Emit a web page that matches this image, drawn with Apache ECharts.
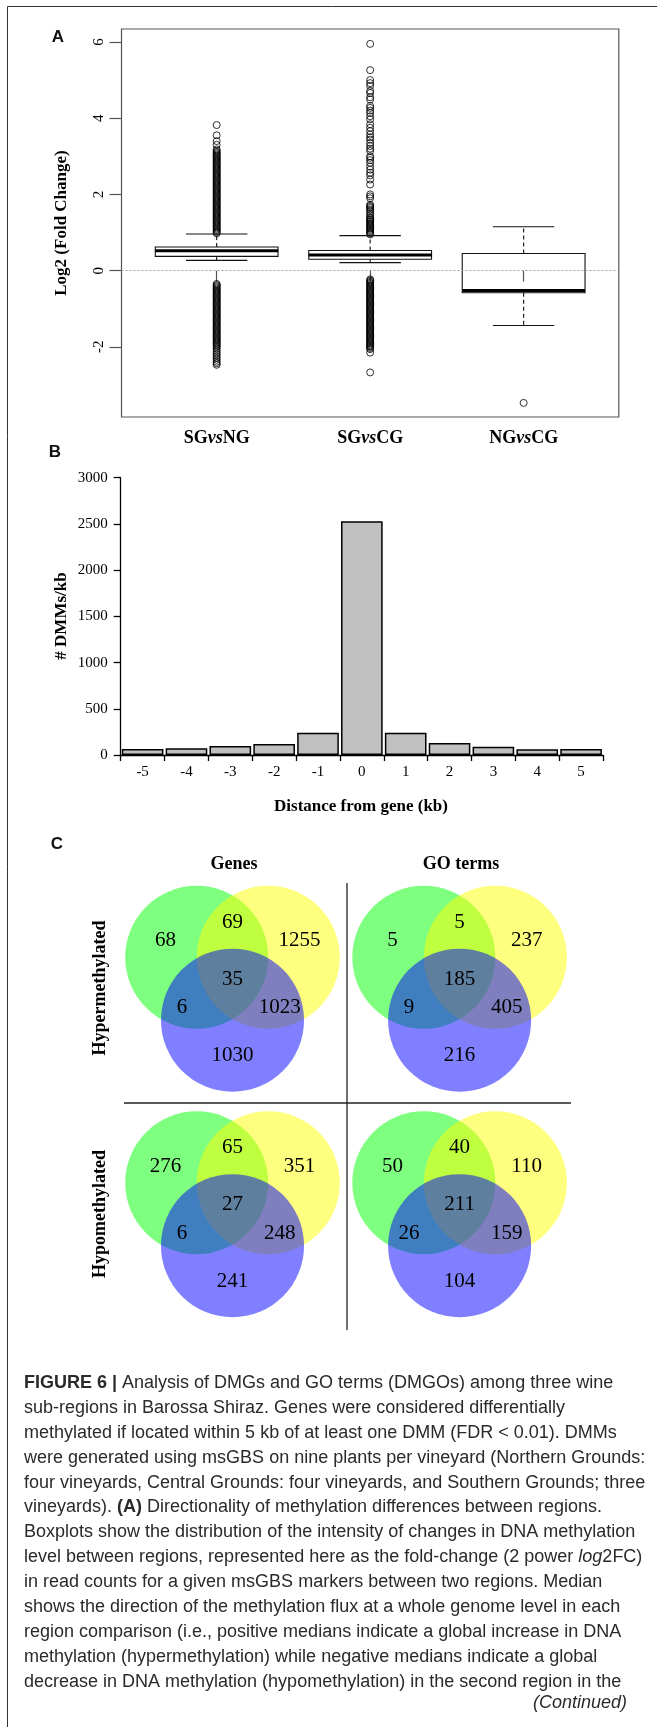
<!DOCTYPE html>
<html>
<head>
<meta charset="utf-8">
<script src="https://cdn.jsdelivr.net/npm/echarts@6/dist/echarts.min.js"></script>
<style>
html,body{margin:0;padding:0;background:#fff;}
#c{width:657px;height:1727px;}
</style>
</head>
<body>
<div id="c"></div>
<script>
// ---------- Panel A: boxplots of log2 fold change ----------
const boxCategories = ['SGvsNG', 'SGvsCG', 'NGvsCG'];
const boxPositions = [1, 2, 3];
const whiskerLow = [0.27, 0.21, -1.44];
const quartile1 = [0.375, 0.30, -0.58];
const medians = [0.52, 0.41, -0.52];
const quartile3 = [0.62, 0.53, 0.45];
const whiskerHigh = [0.96, 0.92, 1.15];
const yTicksA = [-2, 0, 2, 4, 6];
const outliersSGvsNG = [
  0.98, 1.01, 1.04, 1.07, 1.10, 1.13, 1.16, 1.19, 1.22, 1.25, 1.28, 1.31, 1.34, 1.37, 1.40,
  1.43, 1.46, 1.49, 1.52, 1.55, 1.58, 1.61, 1.64, 1.67, 1.70, 1.73, 1.76, 1.79, 1.82, 1.85,
  1.88, 1.91, 1.94, 1.97, 2.00, 2.03, 2.06, 2.09, 2.12, 2.15, 2.18, 2.21, 2.24, 2.27, 2.30,
  2.33, 2.36, 2.39, 2.42, 2.45, 2.48, 2.51, 2.54, 2.57, 2.60, 2.63, 2.66, 2.69, 2.72, 2.75,
  2.78, 2.81, 2.84, 2.87, 2.90, 2.93, 2.96, 2.99, 3.02, 3.05, 3.08, 3.11, 3.14, 3.18, 3.30,
  3.40, 3.55, 3.82,
  -0.35, -0.38, -0.41, -0.44, -0.47, -0.50, -0.53, -0.56, -0.59, -0.62, -0.65, -0.68, -0.71,
  -0.74, -0.77, -0.80, -0.83, -0.86, -0.89, -0.92, -0.95, -0.98, -1.01, -1.04, -1.07, -1.10,
  -1.13, -1.16, -1.19, -1.22, -1.25, -1.28, -1.31, -1.34, -1.37, -1.40, -1.43, -1.46, -1.49,
  -1.52, -1.55, -1.58, -1.61, -1.64, -1.67, -1.70, -1.73, -1.76, -1.79, -1.82, -1.85, -1.88,
  -1.91, -1.94, -1.97, -2.00, -2.04, -2.09, -2.14, -2.19, -2.24, -2.29, -2.34, -2.39, -2.43,
  -2.47
];
const outliersSGvsCG = [
  0.95, 0.98, 1.01, 1.04, 1.07, 1.10, 1.13, 1.16, 1.19, 1.22, 1.25, 1.28, 1.31, 1.34, 1.37,
  1.40, 1.45, 1.50, 1.56, 1.60, 1.64, 1.67, 1.70, 1.73, 1.90, 1.95, 2.00, 2.26, 2.39, 2.50,
  2.57, 2.65, 2.73, 2.83, 2.90, 2.96, 3.00, 3.14, 3.20, 3.27, 3.35, 3.44, 3.50, 3.57, 3.66,
  3.75, 3.84, 3.97, 4.05, 4.14, 4.20, 4.27, 4.32, 4.49, 4.55, 4.66, 4.72, 4.85, 4.92, 5.00,
  5.26, 5.95,
  -0.23, -0.26, -0.29, -0.32, -0.35, -0.38, -0.41, -0.44, -0.47, -0.50, -0.53, -0.56, -0.59,
  -0.62, -0.65, -0.68, -0.71, -0.74, -0.77, -0.80, -0.83, -0.86, -0.89, -0.92, -0.95, -0.98,
  -1.01, -1.04, -1.07, -1.10, -1.13, -1.16, -1.19, -1.22, -1.25, -1.28, -1.31, -1.34, -1.37,
  -1.40, -1.43, -1.46, -1.49, -1.52, -1.55, -1.58, -1.61, -1.64, -1.67, -1.70, -1.73, -1.76,
  -1.79, -1.82, -1.85, -1.88, -1.91, -1.94, -1.97, -2.00, -2.03, -2.06, -2.15, -2.67
];
const outliersNGvsCG = [-3.47];

// ---------- Panel B: DMMs per kb by distance from gene ----------
const distanceLabels = ['-5', '-4', '-3', '-2', '-1', '0', '1', '2', '3', '4', '5'];
const dmmPerKb = [65, 72, 97, 119, 242, 2530, 242, 130, 90, 61, 65];

// ---------- Panel C: Venn diagrams ----------
// region order: greenOnly, green&yellow, yellowOnly, all three, green&blue, yellow&blue, blueOnly
const vennColumns = ['Genes', 'GO terms'];
const vennRows = ['Hypermethylated', 'Hypomethylated'];
const vennGenesHyper = [68, 69, 1255, 35, 6, 1023, 1030];
const vennGOHyper = [5, 5, 237, 185, 9, 405, 216];
const vennGenesHypo = [276, 65, 351, 27, 6, 248, 241];
const vennGOHypo = [50, 40, 110, 211, 26, 159, 104];

// ---------- Caption ----------
const captionLines = [
  '{b|FIGURE 6 |} Analysis of DMGs and GO terms (DMGOs) among three wine',
  'sub-regions in Barossa Shiraz. Genes were considered differentially',
  'methylated if located within 5 kb of at least one DMM (FDR < 0.01). DMMs',
  'were generated using msGBS on nine plants per vineyard (Northern Grounds:',
  'four vineyards, Central Grounds: four vineyards, and Southern Grounds; three',
  'vineyards). {b|(A)} Directionality of methylation differences between regions.',
  'Boxplots show the distribution of the intensity of changes in DNA methylation',
  'level between regions, represented here as the fold-change (2 power {i|log}2FC)',
  'in read counts for a given msGBS markers between two regions. Median',
  'shows the direction of the methylation flux at a whole genome level in each',
  'region comparison (i.e., positive medians indicate a global increase in DNA',
  'methylation (hypermethylation) while negative medians indicate a global',
  'decrease in DNA methylation (hypomethylation) in the second region in the'
];
const captionContinued = '(Continued)';

// ================= rendering =================
const serif = '"Liberation Serif","Times New Roman",serif';
const sans = '"Liberation Sans",Arial,sans-serif';
const capFont = '"Liberation Sans",Arial,sans-serif';
const capSize = 18;
const capColor = '#2a2a2a';

const chart = echarts.init(document.getElementById('c'), null, {renderer: 'canvas', width: 657, height: 1727});

const outlierData = [];
[outliersSGvsNG, outliersSGvsCG, outliersNGvsCG].forEach((arr, i) => {
  arr.forEach(v => outlierData.push([boxPositions[i], v]));
});

const vennSets = [vennGenesHyper, vennGOHyper, vennGenesHypo, vennGOHypo];
const vennCells = [[0.5, 0.5], [1.5, 0.5], [0.5, 1.5], [1.5, 1.5]];
const vennRadius = 0.315; // in column units
const vennCircleOffsets = [[-0.5, -0.29, 'rgba(0,255,0,0.5)'], [0.5, -0.29, 'rgba(255,255,0,0.5)'], [0, 0.59, 'rgba(0,0,255,0.5)']];
const vennLabelOffsets = [[-0.937, -0.522], [0, -0.783], [0.937, -0.522], [0, 0.014], [-0.706, 0.415], [0.66, 0.415], [0, 1.09]];

const graphics = [];
// figure frame (left and top border)
graphics.push({type: 'line', shape: {x1: 7.5, y1: 6.5, x2: 7.5, y2: 1727}, style: {stroke: '#333', lineWidth: 1}});
graphics.push({type: 'line', shape: {x1: 7.5, y1: 6.5, x2: 657, y2: 6.5}, style: {stroke: '#333', lineWidth: 1}});
// panel letters
[['A', 58, 37], ['B', 55, 452], ['C', 57, 844]].forEach(p => {
  graphics.push({type: 'text', x: p[1], y: p[2], style: {text: p[0], font: 'bold 17px ' + sans, fill: '#111', textAlign: 'center', textVerticalAlign: 'middle'}});
});
// axis titles
graphics.push({type: 'text', x: 62, y: 223, rotation: Math.PI / 2, style: {text: 'Log2 (Fold Change)', font: 'bold 17px ' + serif, fill: '#000', textAlign: 'center', textVerticalAlign: 'middle'}});
graphics.push({type: 'text', x: 62, y: 616, rotation: Math.PI / 2, style: {text: '# DMMs/kb', font: 'bold 17px ' + serif, fill: '#000', textAlign: 'center', textVerticalAlign: 'middle'}});
graphics.push({type: 'text', x: 361, y: 807, style: {text: 'Distance from gene (kb)', font: 'bold 17px ' + serif, fill: '#000', textAlign: 'center', textVerticalAlign: 'middle'}});
// panel C titles
[[vennColumns[0], 234, 864], [vennColumns[1], 461, 864]].forEach(p => {
  graphics.push({type: 'text', x: p[1], y: p[2], style: {text: p[0], font: 'bold 18px ' + serif, fill: '#000', textAlign: 'center', textVerticalAlign: 'middle'}});
});
[[vennRows[0], 100.5, 988], [vennRows[1], 100.5, 1214]].forEach(p => {
  graphics.push({type: 'text', x: p[1], y: p[2], rotation: Math.PI / 2, style: {text: p[0], font: 'bold 18px ' + serif, fill: '#000', textAlign: 'center', textVerticalAlign: 'middle'}});
});
// panel C dividers
graphics.push({type: 'line', shape: {x1: 347, y1: 883, x2: 347, y2: 1330}, style: {stroke: '#222', lineWidth: 1.3}});
graphics.push({type: 'line', shape: {x1: 124, y1: 1103, x2: 571, y2: 1103}, style: {stroke: '#222', lineWidth: 1.3}});
// caption
const capRich = {
  b: {fontWeight: 'bold', fontFamily: capFont, fontSize: capSize, fill: capColor},
  i: {fontStyle: 'italic', fontFamily: capFont, fontSize: capSize, fill: capColor}
};
captionLines.forEach((t, k) => {
  graphics.push({type: 'text', x: 24, y: 1383 + k * 24.9, style: {text: t, rich: capRich, fontFamily: capFont, fontSize: capSize, fill: capColor, textAlign: 'left', textVerticalAlign: 'middle'}});
});
graphics.push({type: 'text', x: 627, y: 1703, style: {text: captionContinued, font: 'italic ' + capSize + 'px ' + capFont, fill: capColor, textAlign: 'right', textVerticalAlign: 'middle'}});

const option = {
  backgroundColor: '#fff',
  animation: false,
  grid: [
    {left: 121.5, top: 29, width: 497.3, height: 388, show: true, borderColor: '#555', borderWidth: 1.2, backgroundColor: 'transparent'},
    {left: 120.7, top: 477.7, width: 482.3, height: 277.3},
    {left: 118.95, top: 865.25, width: 454.2, height: 451}
  ],
  xAxis: [
    {
      gridIndex: 0, type: 'value', min: 0.38, max: 3.62,
      axisLine: {show: false}, splitLine: {show: false},
      axisTick: {show: true, length: 11, customValues: boxPositions, lineStyle: {color: '#555', width: 1.2}},
      axisLabel: {
        customValues: boxPositions, margin: 12,
        formatter: v => {
          const name = boxCategories[boxPositions.indexOf(Math.round(v))] || '';
          const parts = name.split('vs');
          return '{b|' + parts[0] + '}{i|vs}{b|' + parts[1] + '}';
        },
        rich: {
          b: {fontFamily: serif, fontWeight: 'bold', fontSize: 18, color: '#000'},
          i: {fontFamily: serif, fontWeight: 'bold', fontStyle: 'italic', fontSize: 18, color: '#000'}
        }
      }
    },
    {
      gridIndex: 1, type: 'category', data: distanceLabels,
      axisLine: {show: true, lineStyle: {color: '#000', width: 1.3}},
      axisTick: {show: true, length: 6, lineStyle: {color: '#000', width: 1.3}},
      axisLabel: {fontFamily: serif, fontSize: 15, color: '#000', margin: 10}
    },
    {gridIndex: 2, type: 'value', min: 0, max: 2, show: false}
  ],
  yAxis: [
    {
      gridIndex: 0, type: 'value', min: -3.84, max: 6.34,
      axisLine: {show: false}, splitLine: {show: false},
      axisTick: {show: true, length: 12, customValues: yTicksA, lineStyle: {color: '#555', width: 1.2}},
      axisLabel: {customValues: yTicksA, rotate: 90, margin: 15, fontFamily: serif, fontSize: 15, color: '#000'}
    },
    {
      gridIndex: 1, type: 'value', min: 0, max: 3000, interval: 500,
      axisLine: {show: true, lineStyle: {color: '#000', width: 1.3}},
      axisTick: {show: true, length: 7, lineStyle: {color: '#000', width: 1.3}},
      splitLine: {show: false},
      axisLabel: {fontFamily: serif, fontSize: 15, color: '#000', margin: 13, formatter: v => String(v)}
    },
    {gridIndex: 2, type: 'value', min: 0, max: 2, inverse: true, show: false}
  ],
  graphic: graphics,
  series: [
    {
      type: 'scatter', xAxisIndex: 0, yAxisIndex: 0,
      data: outlierData, symbol: 'circle', symbolSize: 7,
      itemStyle: {color: 'rgba(0,0,0,0)', borderColor: '#000', borderWidth: 1},
      markLine: {
        silent: true, symbol: 'none', label: {show: false},
        lineStyle: {color: '#9a9a9a', type: [2, 2], width: 1},
        data: [{yAxis: 0}]
      },
      z: 3
    },
    {
      type: 'custom', xAxisIndex: 0, yAxisIndex: 0,
      data: boxPositions.map((p, i) => [p, whiskerLow[i], quartile1[i], medians[i], quartile3[i], whiskerHigh[i]]),
      encode: {x: 0, y: [1, 2, 3, 4, 5]},
      z: 4,
      renderItem: (params, api) => {
        const x = api.value(0);
        const yLow = api.coord([x, api.value(1)])[1];
        const yQ1 = api.coord([x, api.value(2)])[1];
        const yMed = api.coord([x, api.value(3)])[1];
        const yQ3 = api.coord([x, api.value(4)])[1];
        const yHigh = api.coord([x, api.value(5)])[1];
        const cx = api.coord([x, 0])[0];
        const left = api.coord([x - 0.4, 0])[0];
        const right = api.coord([x + 0.4, 0])[0];
        const capL = api.coord([x - 0.2, 0])[0];
        const capR = api.coord([x + 0.2, 0])[0];
        const st = {stroke: '#111', lineWidth: 1.1, fill: null};
        return {
          type: 'group',
          children: [
            {type: 'rect', shape: {x: left, y: yQ3, width: right - left, height: yQ1 - yQ3}, style: {stroke: '#111', lineWidth: 1.1, fill: 'rgba(0,0,0,0)'}},
            {type: 'line', shape: {x1: left, y1: yMed, x2: right, y2: yMed}, style: {stroke: '#000', lineWidth: 3}},
            {type: 'line', shape: {x1: cx, y1: yQ3, x2: cx, y2: yHigh}, style: {stroke: '#111', lineWidth: 1.1, lineDash: [4, 3]}},
            {type: 'line', shape: {x1: cx, y1: yQ1, x2: cx, y2: yLow}, style: {stroke: '#111', lineWidth: 1.1, lineDash: [4, 3]}},
            {type: 'line', shape: {x1: capL, y1: yHigh, x2: capR, y2: yHigh}, style: st},
            {type: 'line', shape: {x1: capL, y1: yLow, x2: capR, y2: yLow}, style: st}
          ]
        };
      }
    },
    {
      type: 'bar', xAxisIndex: 1, yAxisIndex: 1,
      data: dmmPerKb, barCategoryGap: '5%',
      itemStyle: {color: '#c0c0c0', borderColor: '#000', borderWidth: 1.5}
    },
    {
      type: 'custom', xAxisIndex: 2, yAxisIndex: 2,
      data: vennCells.map((c, i) => [c[0], c[1], i]),
      encode: {x: 0, y: 1},
      renderItem: (params, api) => {
        const c = api.coord([api.value(0), api.value(1)]);
        const r = api.size([vennRadius, 0])[0];
        const counts = vennSets[api.value(2)];
        const children = vennCircleOffsets.map(o => ({
          type: 'circle', shape: {cx: c[0] + o[0] * r, cy: c[1] + o[1] * r, r: r}, style: {fill: o[2]}
        }));
        vennLabelOffsets.forEach((o, k) => {
          children.push({
            type: 'text', x: c[0] + o[0] * r, y: c[1] + o[1] * r,
            style: {text: String(counts[k]), font: '21px ' + serif, fill: '#000', textAlign: 'center', textVerticalAlign: 'middle', align: 'center', verticalAlign: 'middle'}
          });
        });
        return {type: 'group', children: children};
      }
    }
  ]
};
chart.setOption(option);
</script>
</body>
</html>
